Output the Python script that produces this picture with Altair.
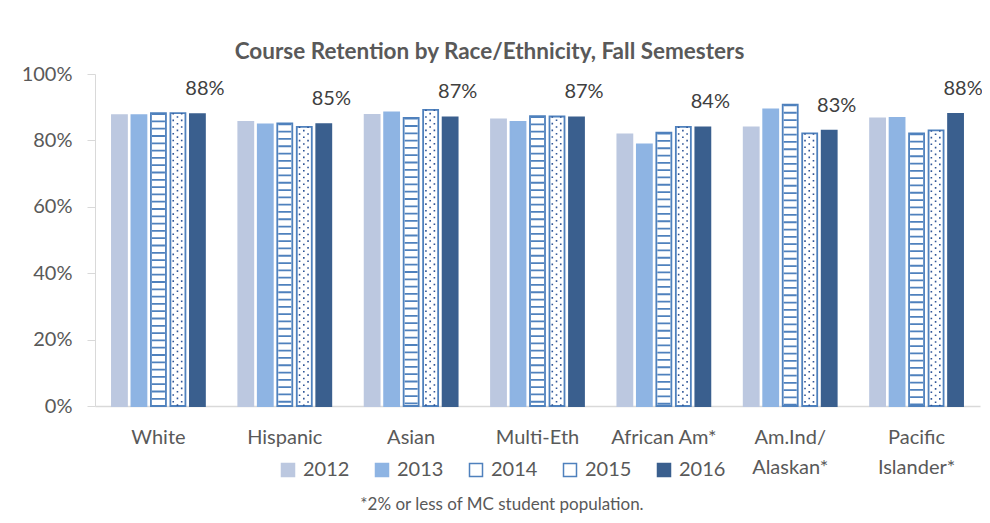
import altair as alt
import pandas as pd

categories = ["White", "Hispanic", "Asian", "Multi-Eth", "African Am*",
              "Am.Ind/\nAlaskan*", "Pacific\nIslander*"]
years = ["2012", "2013", "2014", "2015", "2016"]
v2012 = [87.6, 85.6, 87.7, 86.3, 81.8, 83.9, 86.6]
v2013 = [87.6, 84.8, 88.4, 85.6, 78.8, 89.3, 86.8]
v2014 = [88.2, 85.1, 86.8, 87.3, 82.3, 90.8, 82.1]
v2015 = [88.2, 84.1, 89.2, 87.2, 84.1, 82.1, 83.0]
v2016 = [87.9, 84.9, 86.9, 86.9, 83.9, 82.9, 88.0]
labels_2016 = ["88%", "85%", "87%", "87%", "84%", "83%", "88%"]

fills = ["#bcc8e0", "#8eb4e3", "#ffffff", "#ffffff", "#3a5f8e"]
strokes = ["#bcc8e0", "#8eb4e3", "#4f81bd", "#4f81bd", "#3a5f8e"]

rows = []
for yr, vals in zip(years, [v2012, v2013, v2014, v2015, v2016]):
    for i, (c, v) in enumerate(zip(categories, vals)):
        rows.append({"cat": c, "year": yr, "value": v / 100,
                     "label": labels_2016[i] if yr == "2016" else ""})
df = pd.DataFrame(rows)

# dotted fill pattern of the 2015 bars: three dot columns inside each bar
slots = ["s%d" % i for i in range(22)]
dot_cols = {"s14": "outer", "s15": "mid", "s16": "outer"}
dot_rows = []
for c, v in zip(categories, v2015):
    for s, kind in dot_cols.items():
        dot_rows.append({"cat": c, "slot": s, "kind": kind, "value": v / 100})
ddf = pd.DataFrame(dot_rows)

FONT = "Lato"
GREY = "#595959"

x = alt.X("cat:N", sort=categories,
          scale=alt.Scale(paddingInner=0.264, paddingOuter=0.134),
          axis=alt.Axis(title=None, labelExpr="split(datum.label, '\\n')",
                        labelAngle=0, labelFontSize=20, labelFont=FONT,
                        labelColor=GREY, labelPadding=21, labelLineHeight=30,
                        ticks=False, domainColor="#d9d9d9", domainWidth=1.3))
xo = alt.XOffset("year:N", sort=years,
                 scale=alt.Scale(domain=years, paddingInner=0.23, paddingOuter=0))
xs = alt.XOffset("slot:N", sort=slots,
                 scale=alt.Scale(domain=slots, paddingInner=0, paddingOuter=0))
y = alt.Y("value:Q", scale=alt.Scale(domain=[0, 1]),
          axis=alt.Axis(title=None, format=".0%", values=[0, 0.2, 0.4, 0.6, 0.8, 1],
                        grid=False, tickSize=8, tickColor="#d9d9d9",
                        domainColor="#d9d9d9", labelFontSize=20, labelFont=FONT,
                        labelColor=GREY, labelPadding=15))

leg = alt.Legend(orient="none", legendX=183, legendY=386, direction="horizontal",
                 title="*2% or less of MC student population.", titleOrient="bottom",
                 titleAnchor="middle", titleFontSize=17, titleFont=FONT,
                 titleFontWeight="normal", titleColor=GREY, titlePadding=17,
                 titleLimit=600,
                 labelFontSize=20, labelFont=FONT, labelColor=GREY,
                 symbolType="square", symbolSize=169, symbolStrokeWidth=1.5,
                 columnPadding=22, labelOffset=5)

bars = alt.Chart(df).mark_bar(strokeWidth=1.8).encode(
    x=x, xOffset=xo, y=y,
    fill=alt.Fill("year:N", scale=alt.Scale(domain=years, range=fills), legend=leg),
    stroke=alt.Stroke("year:N", scale=alt.Scale(domain=years, range=strokes), legend=leg),
)

stripes = alt.Chart(df).transform_filter("datum.year == '2014'").mark_rule(
    strokeWidth=13, strokeDash=[1.8, 5.5], strokeCap="butt", color="#4f81bd"
).encode(x=x, xOffset=xo, y=y, y2=alt.datum(0))

def dots(kind, dash_offset):
    return alt.Chart(ddf).transform_filter(f"datum.kind == '{kind}'").mark_rule(
        strokeWidth=1.6, strokeDash=[1.6, 5.1], strokeDashOffset=dash_offset,
        strokeCap="butt", color="#2f5597"
    ).encode(x=x, xOffset=xs, y=y, y2=alt.datum(0))

labels = alt.Chart(df).transform_filter("datum.year == '2016'").mark_text(
    dy=-19, baseline="alphabetic", fontSize=20, font=FONT, color="#404040"
).encode(x=x, xOffset=xo, y=y, text="label:N")

chart = alt.layer(bars, stripes, dots("outer", 0.35), dots("mid", 3.7), labels).resolve_scale(
    xOffset="independent"
).properties(
    width=885, height=332,
    title=alt.TitleParams("Course Retention by Race/Ethnicity, Fall Semesters",
                          fontSize=22.5, font=FONT, fontWeight="bold", color=GREY,
                          anchor="middle", dx=-48, offset=1),
    autosize=alt.AutoSizeParams(type="none"),
    padding={"left": 87, "top": 66, "right": 2, "bottom": 108},
).configure_view(stroke=None)

chart.save("out.html", embed_options={"renderer": "svg", "actions": False})
